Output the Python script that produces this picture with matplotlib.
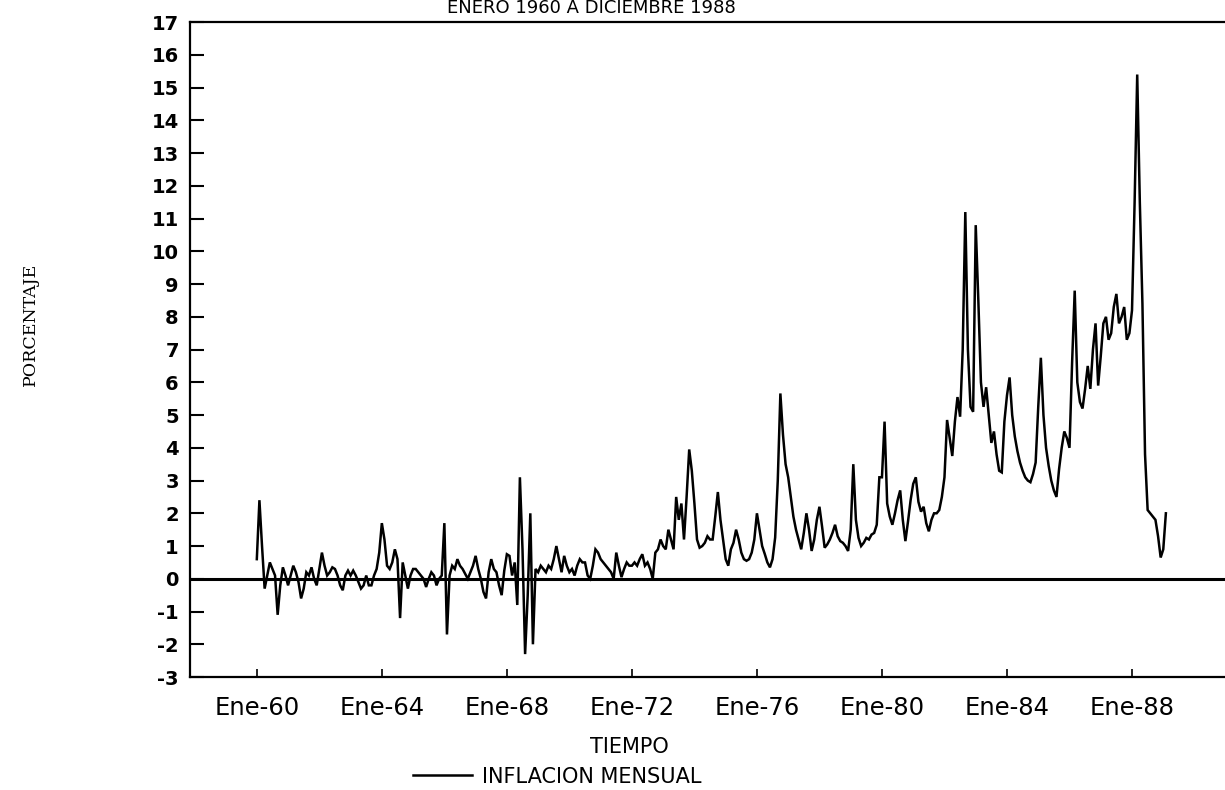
import matplotlib
matplotlib.use("Agg")
import matplotlib.pyplot as plt
import numpy as np

# Monthly inflation (%), Jan 1960 onwards
y1960 = [0.6, 2.4, 1.0, -0.3, 0.1, 0.5, 0.3, 0.1, -1.1, -0.2, 0.35, 0.1]
y1961 = [-0.2, 0.1, 0.4, 0.2, -0.1, -0.6, -0.3, 0.2, 0.1, 0.35, 0.0, -0.2]
y1962 = [0.3, 0.8, 0.4, 0.1, 0.2, 0.35, 0.3, 0.1, -0.2, -0.35, 0.1, 0.25]
y1963 = [0.1, 0.25, 0.1, -0.1, -0.3, -0.2, 0.1, -0.2, -0.2, 0.1, 0.3, 0.8]
y1964 = [1.7, 1.2, 0.4, 0.3, 0.5, 0.9, 0.6, -1.2, 0.5, 0.1, -0.3, 0.1]
y1965 = [0.3, 0.3, 0.2, 0.1, 0.0, -0.25, 0.0, 0.2, 0.1, -0.2, 0.0, 0.1]
y1966 = [1.7, -1.7, 0.1, 0.4, 0.3, 0.6, 0.4, 0.3, 0.15, 0.0, 0.2, 0.4]
y1967 = [0.7, 0.3, 0.0, -0.4, -0.6, 0.2, 0.6, 0.3, 0.2, -0.2, -0.5, 0.25]
y1968 = [0.75, 0.7, 0.1, 0.5, -0.8, 3.1, 0.9, -2.3, -0.5, 2.0, -2.0, 0.3]
y1969 = [0.2, 0.4, 0.3, 0.2, 0.4, 0.3, 0.6, 1.0, 0.6, 0.2, 0.7, 0.4]
y1970 = [0.2, 0.3, 0.1, 0.4, 0.6, 0.5, 0.5, 0.1, 0.0, 0.4, 0.9, 0.8]
y1971 = [0.6, 0.5, 0.4, 0.3, 0.2, 0.0, 0.8, 0.4, 0.05, 0.3, 0.5, 0.4]
y1972 = [0.4, 0.5, 0.4, 0.6, 0.75, 0.4, 0.5, 0.3, 0.0, 0.8, 0.9, 1.2]
y1973 = [1.0, 0.9, 1.5, 1.2, 0.9, 2.5, 1.8, 2.3, 1.2, 2.5, 3.95, 3.3]
y1974 = [2.3, 1.2, 0.95, 1.0, 1.1, 1.3, 1.2, 1.2, 1.9, 2.65, 1.8, 1.2]
y1975 = [0.6, 0.4, 0.9, 1.1, 1.5, 1.2, 0.8, 0.6, 0.55, 0.6, 0.8, 1.2]
y1976 = [2.0, 1.5, 1.0, 0.76, 0.5, 0.35, 0.6, 1.26, 3.0, 5.66, 4.4, 3.5]
y1977 = [3.1, 2.5, 1.9, 1.5, 1.2, 0.9, 1.4, 2.0, 1.5, 0.85, 1.2, 1.8]
y1978 = [2.2, 1.6, 0.95, 1.05, 1.2, 1.4, 1.65, 1.3, 1.15, 1.1, 1.0, 0.85]
y1979 = [1.5, 3.5, 1.8, 1.25, 1.0, 1.1, 1.25, 1.2, 1.35, 1.4, 1.65, 3.1]
y1980 = [3.1, 4.8, 2.3, 1.9, 1.65, 2.0, 2.4, 2.7, 1.8, 1.15, 1.75, 2.4]
y1981 = [2.9, 3.1, 2.35, 2.05, 2.2, 1.7, 1.45, 1.8, 2.0, 2.0, 2.1, 2.5]
y1982 = [3.1, 4.85, 4.3, 3.75, 4.8, 5.55, 4.95, 7.0, 11.2, 7.0, 5.25, 5.1]
y1983 = [10.8, 8.5, 6.0, 5.25, 5.85, 5.0, 4.15, 4.5, 3.8, 3.3, 3.25, 4.8]
y1984 = [5.6, 6.15, 5.0, 4.35, 3.9, 3.55, 3.3, 3.1, 3.0, 2.95, 3.2, 3.55]
y1985 = [5.25, 6.75, 5.0, 4.0, 3.45, 3.0, 2.7, 2.5, 3.35, 4.0, 4.5, 4.3]
y1986 = [4.0, 6.6, 8.8, 6.0, 5.4, 5.2, 5.8, 6.5, 5.8, 7.0, 7.8, 5.9]
y1987 = [6.8, 7.8, 8.0, 7.3, 7.5, 8.3, 8.7, 7.8, 8.0, 8.3, 7.3, 7.5]
y1988 = [8.2, 11.5, 15.4, 11.5, 8.4, 3.8, 2.1, 2.0, 1.9, 1.8, 1.3, 0.65]
y1989 = [0.9, 2.0]

inflacion = (y1960 + y1961 + y1962 + y1963 + y1964 + y1965 + y1966 + y1967 +
             y1968 + y1969 + y1970 + y1971 + y1972 + y1973 + y1974 + y1975 +
             y1976 + y1977 + y1978 + y1979 + y1980 + y1981 + y1982 + y1983 +
             y1984 + y1985 + y1986 + y1987 + y1988 + y1989)

tick_labels = ["Ene-60", "Ene-64", "Ene-68", "Ene-72", "Ene-76", "Ene-80", "Ene-84", "Ene-88"]
tick_months = [0, 48, 96, 144, 192, 240, 288, 336]
y_ticks = list(range(-3, 18))

months = np.arange(len(inflacion))

fig = plt.figure(figsize=(12.25, 7.9), dpi=100)
ax = fig.add_axes([0.155, 0.143, 0.845, 0.829])

line, = ax.plot(months, inflacion, color="black", linewidth=1.8,
                label="INFLACION MENSUAL", solid_joinstyle="miter")
ax.axhline(0, color="black", linewidth=2.2)

ax.set_xlim(-25.7, 371.7)
ax.set_ylim(-3, 17)

ax.spines["right"].set_visible(False)
for s in ["left", "bottom", "top"]:
    ax.spines[s].set_linewidth(1.6)

ax.set_yticks(y_ticks)
ax.set_yticklabels([str(v) for v in y_ticks], fontsize=14, fontweight="bold",
                   family="DejaVu Sans")
ax.tick_params(axis="y", direction="in", length=10, width=1.5, pad=8)

ax.set_xticks(tick_months)
ax.set_xticklabels(tick_labels, fontsize=17.5, family="DejaVu Sans")
ax.tick_params(axis="x", direction="in", length=6, width=1.2, pad=14)

fig.text(0.025, 0.59, "PORCENTAJE", rotation=90, ha="center", va="center",
         fontsize=12.5, family="DejaVu Serif")
fig.text(0.514, 0.054, "TIEMPO", ha="center", va="center", fontsize=15,
         family="DejaVu Sans")
fig.text(0.483, 0.99, "ENERO 1960 A DICIEMBRE 1988", ha="center", va="center",
         fontsize=13, family="DejaVu Sans")

fig.legend(handles=[line], loc="center", bbox_to_anchor=(0.455, 0.017),
           frameon=False, fontsize=15, handlelength=2.8, handletextpad=0.5,
           borderpad=0)

fig.savefig("out.png", dpi=100)
